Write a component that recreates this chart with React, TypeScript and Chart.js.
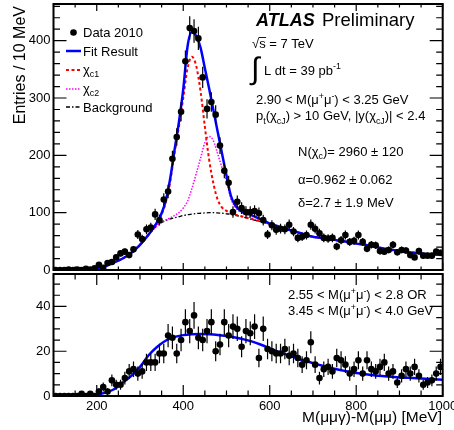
import React, { useEffect, useRef } from 'react';
import { Chart, registerables } from 'chart.js';

Chart.register(...registerables);

const FONT = '"Liberation Sans", Arial, Helvetica, sans-serif';

// ---------- data: 10 MeV bins ----------
const binCenters = [
  105, 115, 125, 135, 145, 155, 165, 175, 185, 195,
  205, 215, 225, 235, 245, 255, 265, 275, 285, 295,
  305, 315, 325, 335, 345, 355, 365, 375, 385, 395,
  405, 415, 425, 435, 445, 455, 465, 475, 485, 495,
  505, 515, 525, 535, 545, 555, 565, 575, 585, 595,
  605, 615, 625, 635, 645, 655, 665, 675, 685, 695,
  705, 715, 725, 735, 745, 755, 765, 775, 785, 795,
  805, 815, 825, 835, 845, 855, 865, 875, 885, 895,
  905, 915, 925, 935, 945, 955, 965, 975, 985, 995,
];

const topCounts = [
  0, 0, 0, 1, 0, 1, 0, 2, 1, 3,
  9, 4, 12, 14, 22, 29, 32, 26, 36, 62,
  54, 71, 74, 97, 87, 123, 137, 194, 232, 276,
  364, 422, 417, 404, 336, 281, 293, 271, 217, 173,
  152, 101, 119, 108, 101, 101, 103, 99, 87, 62,
  78, 70, 72, 71, 79, 67, 56, 58, 61, 79,
  72, 64, 56, 55, 56, 41, 52, 61, 49, 51,
  61, 49, 37, 44, 43, 33, 32, 35, 44, 31,
  35, 34, 26, 22, 33, 25, 25, 25, 32, 30,
];

const bottomCounts = [
  0, 0, 0, 0, 0, 0, 1, 0, 1, 0,
  2, 4, 2, 7, 5, 5, 8, 11, 12, 10,
  11, 15, 15, 15, 19, 19, 27, 26, 19, 25,
  33, 29, 36, 26, 25, 29, 33, 20, 23, 33,
  27, 31, 30, 22, 29, 28, 31, 17, 30, 21,
  20, 19, 19, 21, 18, 19, 17, 14, 16, 24,
  14, 8, 12, 13, 11, 17, 16, 14, 10, 12,
  16, 10, 16, 12, 11, 13, 15, 10, 11, 6,
  9, 12, 10, 13, 9, 5, 6, 7, 10, 13,
];

// ---------- fitted curves ----------
const topCurveX = [
  100, 160, 180, 200, 220, 240, 260, 280, 300, 320, 340, 350, 360, 370, 380, 390,
  400, 410, 420, 430, 440, 450, 460, 470, 480, 490, 500, 510, 520, 530, 540, 560,
  580, 600, 620, 640, 660, 680, 700, 720, 740, 760, 780, 800, 820, 840, 860, 880,
  900, 920, 940, 960, 980, 1000,
];
const fitTop = [
  0, 0, 1, 3, 7, 13, 20, 30, 44, 62, 84, 99, 122, 160, 210, 258,
  315, 390, 415, 408, 388, 352, 316, 278, 240, 202, 165, 130, 113, 105, 100, 95,
  88, 81, 76, 71, 67, 62, 58, 56, 54, 51, 49, 46, 44, 41, 38, 35.5,
  33, 31, 29.5, 28, 27, 26,
];
const chic1Top = [
  0, 0, 1, 3, 7, 13, 20, 30, 44, 62, 83, 97, 119, 155, 205, 250,
  300, 352, 372, 356, 312, 250, 192, 150, 122, 109, 103, 99, 96.5, 94.5, 92.5, 88.5,
  84.5, 80.5, 75.8, 71.2, 66.7, 62.2, 58.2, 55.7, 53.7, 51.2, 48.7, 46.2, 43.7, 41.2, 38.2, 35.7,
  33.2, 31.2, 29.7, 28.2, 27.1, 26.1,
];
const chic2Top = [
  0, 0, 1, 3, 7, 13, 20, 30, 43, 61, 78, 83.5, 87.5, 91, 95, 100,
  108, 120, 142, 168, 195, 222, 233, 225, 202, 178, 155, 125, 110, 102, 97.5, 90,
  85, 80.5, 75.8, 71.2, 66.7, 62.2, 58.2, 55.7, 53.7, 51.2, 48.7, 46.2, 43.7, 41.2, 38.2, 35.7,
  33.2, 31.2, 29.7, 28.2, 27.1, 26.1,
];
const bkgTop = [
  0, 0, 1, 3, 7, 13, 20, 30, 43, 61, 78, 83, 86.5, 89, 91, 93,
  95, 96.5, 97.5, 98.5, 99, 99.5, 100, 100, 99.5, 99, 98, 97, 95.5, 94, 92, 88,
  84, 80, 75.5, 71, 66.5, 62, 58, 55.5, 53.5, 51, 48.5, 46, 43.5, 41, 38, 35.5,
  33, 31, 29.5, 28, 27, 26,
];

const bottomCurveX = [
  100, 160, 180, 200, 220, 240, 260, 280, 300, 320, 340, 360, 380, 400, 420, 440,
  460, 480, 500, 520, 540, 560, 580, 600, 620, 640, 660, 680, 700, 720, 740, 760,
  780, 800, 820, 840, 860, 880, 900, 920, 940, 960, 980, 1000,
];
const fitBottom = [
  0, 0, 0.2, 0.6, 1.5, 3, 6, 9, 13, 18.2, 22, 24.8, 26.4, 27.2, 27.6, 27.7,
  27.6, 27.3, 26.8, 26.1, 25.3, 24.3, 22.9, 21.3, 19.8, 18.4, 17.1, 15.8, 14.7, 13.6, 12.6, 11.7,
  11, 10.3, 9.8, 9.3, 8.9, 8.6, 8.3, 8.1, 7.9, 7.7, 7.5, 7.3,
];

// ---------- axes ----------
const xRange = [100, 1000];
const xTickLabels = [200, 400, 600, 800, 1000];
const yTopRange = [0, 464];
const yTopLabels = [0, 100, 200, 300, 400];
const yBottomRange = [0, 54.5];
const yBottomLabels = [0, 20, 40];

const pts = (xs: number[], ys: number[]) => xs.map((x, i) => ({ x, y: ys[i] }));

type Seg = [string, string?];

function drawRich(ctx: CanvasRenderingContext2D, x: number, y: number, segs: Seg[], size: number) {
  ctx.fillStyle = '#000';
  ctx.textAlign = 'left';
  ctx.textBaseline = 'alphabetic';
  let cx = x;
  for (const [t, k] of segs) {
    let fs = size;
    let dy = 0;
    if (k === 'sub') { fs = size * 0.68; dy = size * 0.3; }
    else if (k === 'sup') { fs = size * 0.68; dy = -size * 0.42; }
    ctx.font = `${fs}px ${FONT}`;
    ctx.fillText(t, cx, y + dy);
    cx += ctx.measureText(t).width;
  }
  return cx;
}

type FrameCfg = {
  xMajor: number; xMinor: number; yMajor: number; yMinor: number;
  xMajLen: number; xMinLen: number; yMajLen: number; yMinLen: number;
};

function framePlugin(cfg: FrameCfg) {
  return {
    id: 'rootFrame',
    afterDraw(chart: any) {
      const { ctx, chartArea: a, scales } = chart;
      const xs = scales.x;
      const ys = scales.y;
      const isMajor = (v: number, m: number) => Math.abs(v / m - Math.round(v / m)) < 1e-6;
      ctx.save();
      ctx.strokeStyle = '#000';
      ctx.lineWidth = 1.2;
      ctx.setLineDash([]);
      ctx.beginPath();
      for (let v = Math.ceil(xs.min / cfg.xMinor) * cfg.xMinor; v <= xs.max + 1e-9; v += cfg.xMinor) {
        const px = xs.getPixelForValue(v);
        const L = isMajor(v, cfg.xMajor) ? cfg.xMajLen : cfg.xMinLen;
        ctx.moveTo(px, a.bottom); ctx.lineTo(px, a.bottom - L);
        ctx.moveTo(px, a.top); ctx.lineTo(px, a.top + L);
      }
      for (let v = Math.ceil(ys.min / cfg.yMinor) * cfg.yMinor; v <= ys.max + 1e-9; v += cfg.yMinor) {
        const py = ys.getPixelForValue(v);
        const L = isMajor(v, cfg.yMajor) ? cfg.yMajLen : cfg.yMinLen;
        ctx.moveTo(a.left, py); ctx.lineTo(a.left + L, py);
        ctx.moveTo(a.right, py); ctx.lineTo(a.right - L, py);
      }
      ctx.stroke();
      ctx.lineWidth = 2;
      ctx.strokeRect(a.left, a.top, a.right - a.left, a.bottom - a.top);
      ctx.restore();
    },
  };
}

function errorBarPlugin(counts: number[]) {
  return {
    id: 'errBars',
    afterDatasetsDraw(chart: any) {
      const { ctx, chartArea: a, scales } = chart;
      ctx.save();
      ctx.beginPath();
      ctx.rect(a.left, a.top, a.right - a.left, a.bottom - a.top);
      ctx.clip();
      ctx.strokeStyle = '#000';
      ctx.lineWidth = 1.2;
      ctx.setLineDash([]);
      ctx.beginPath();
      counts.forEach((n, i) => {
        if (n <= 0) return;
        const e = Math.sqrt(n);
        const px = scales.x.getPixelForValue(binCenters[i]);
        ctx.moveTo(px, scales.y.getPixelForValue(n - e));
        ctx.lineTo(px, scales.y.getPixelForValue(n + e));
      });
      ctx.stroke();
      ctx.restore();
    },
  };
}

const topTextPlugin = {
  id: 'topText',
  afterDraw(chart: any) {
    const ctx: CanvasRenderingContext2D = chart.ctx;
    ctx.save();
    ctx.fillStyle = '#000';
    // y title
    ctx.save();
    ctx.translate(25, 6);
    ctx.rotate(-Math.PI / 2);
    ctx.textAlign = 'right';
    ctx.textBaseline = 'alphabetic';
    ctx.font = `16px ${FONT}`;
    ctx.fillText('Entries / 10 MeV', 0, 0);
    ctx.restore();

    // legend
    const lx0 = 66, lx1 = 81, tx = 83;
    ctx.beginPath();
    ctx.arc(73.5, 32.5, 3.3, 0, Math.PI * 2);
    ctx.fill();
    drawRich(ctx, tx, 37, [['Data 2010']], 13);
    const legLine = (y: number, color: string, w: number, dash: number[]) => {
      ctx.save();
      ctx.strokeStyle = color;
      ctx.lineWidth = w;
      ctx.setLineDash(dash);
      ctx.beginPath();
      ctx.moveTo(lx0, y);
      ctx.lineTo(lx1, y);
      ctx.stroke();
      ctx.restore();
    };
    legLine(51, '#0000ff', 2.5, []);
    drawRich(ctx, tx, 55.5, [['Fit Result']], 13);
    legLine(70, '#ff0000', 2, [3, 2.5]);
    drawRich(ctx, tx, 73.5, [['χ'], ['c1', 'sub']], 13);
    legLine(89, '#ff00ff', 1.5, [1.5, 1.5]);
    drawRich(ctx, tx, 92.5, [['χ'], ['c2', 'sub']], 13);
    legLine(107, '#000000', 1.5, [4, 2, 1.5, 2]);
    drawRich(ctx, tx, 111.5, [['Background']], 13);

    // ATLAS label
    ctx.textAlign = 'left';
    ctx.fillStyle = '#000';
    ctx.font = `italic bold 18px ${FONT}`;
    ctx.fillText('ATLAS', 256, 26);
    ctx.font = `18.5px ${FONT}`;
    ctx.fillText('Preliminary', 322, 26);

    // sqrt(s)
    const afterRoot = drawRich(ctx, 252, 47.5, [['√']], 13);
    const afterS = drawRich(ctx, afterRoot, 47.5, [['s']], 13);
    ctx.save();
    ctx.lineWidth = 0.9;
    ctx.beginPath();
    ctx.moveTo(afterRoot - 0.5, 37.5);
    ctx.lineTo(afterS + 0.5, 37.5);
    ctx.stroke();
    ctx.restore();
    drawRich(ctx, afterS, 47.5, [[' = 7 TeV']], 13);

    // integral L dt
    ctx.font = `31px ${FONT}`;
    ctx.fillText('∫', 251, 79);
    drawRich(ctx, 264, 74.5, [['L dt = 39 pb'], ['-1', 'sup']], 13);

    drawRich(ctx, 256, 104, [['2.90 < M(μ'], ['+', 'sup'], ['μ'], ['-', 'sup'], [') < 3.25 GeV']], 13);
    drawRich(ctx, 256, 120, [['p'], ['t', 'sub'], ['(χ'], ['cJ', 'sub'], [') > 10 GeV, |y(χ'], ['cJ', 'sub'], [')| < 2.4']], 13);
    drawRich(ctx, 298, 155.5, [['N(χ'], ['c', 'sub'], [')= 2960 ± 120']], 13);
    drawRich(ctx, 298, 184, [['α=0.962 ± 0.062']], 13);
    drawRich(ctx, 298, 207, [['δ=2.7 ± 1.9 MeV']], 13);
    ctx.restore();
  },
};

const BOTTOM_TOP = 270;

const bottomTextPlugin = {
  id: 'bottomText',
  afterDraw(chart: any) {
    const ctx: CanvasRenderingContext2D = chart.ctx;
    ctx.save();
    drawRich(ctx, 288, 299 - BOTTOM_TOP, [['2.55 < M(μ'], ['+', 'sup'], ['μ'], ['-', 'sup'], [') < 2.8 OR']], 13);
    drawRich(ctx, 288, 315 - BOTTOM_TOP, [['3.45 < M(μ'], ['+', 'sup'], ['μ'], ['-', 'sup'], [') < 4.0 GeV']], 13);
    ctx.font = `15.5px ${FONT}`;
    ctx.textAlign = 'right';
    ctx.fillStyle = '#000';
    ctx.fillText('M(μμγ)-M(μμ) [MeV]', 442, 421.5 - BOTTOM_TOP);
    ctx.restore();
  },
};

const tickFont = { family: FONT, size: 13 };
const plainLabel = (v: any) => String(v);

export default function App() {
  const topRef = useRef<HTMLCanvasElement | null>(null);
  const botRef = useRef<HTMLCanvasElement | null>(null);

  useEffect(() => {
    if (!topRef.current || !botRef.current) return;

    const curve = (label: string, xs: number[], ys: number[], color: string, width: number, dash: number[]) => ({
      type: 'line' as const,
      label,
      data: pts(xs, ys),
      borderColor: color,
      backgroundColor: color,
      borderWidth: width,
      borderDash: dash,
      pointRadius: 0,
      showLine: true,
      fill: false,
      cubicInterpolationMode: 'monotone' as const,
    });

    const topChart = new Chart(topRef.current, {
      type: 'scatter',
      data: {
        datasets: [
          {
            label: 'Data 2010',
            data: pts(binCenters, topCounts),
            pointRadius: 3.3,
            pointBackgroundColor: '#000',
            pointBorderColor: '#000',
            pointBorderWidth: 0,
            showLine: false,
          },
          curve('Fit Result', topCurveX, fitTop, '#0000ff', 2.5, []),
          curve('χc1', topCurveX, chic1Top, '#ff0000', 2, [3, 2.5]),
          curve('χc2', topCurveX, chic2Top, '#ff00ff', 1.5, [1.5, 1.5]),
          curve('Background', topCurveX, bkgTop, '#000000', 1.3, [4, 2, 1.5, 2]),
        ] as any,
      },
      options: {
        animation: false,
        responsive: false,
        devicePixelRatio: 1,
        events: [],
        layout: { padding: { left: 0, right: 11.3, top: 4, bottom: 2 } },
        plugins: { legend: { display: false }, tooltip: { enabled: false } },
        scales: {
          x: { type: 'linear', min: xRange[0], max: xRange[1], display: false },
          y: {
            type: 'linear',
            min: yTopRange[0],
            max: yTopRange[1],
            grid: { display: false, drawTicks: false },
            border: { display: false },
            ticks: { font: tickFont, color: '#000', padding: 3, callback: plainLabel },
            afterBuildTicks: (s: any) => { s.ticks = yTopLabels.map((v) => ({ value: v })); },
            afterFit: (s: any) => { s.width = 53.5; s.paddingTop = 0; s.paddingBottom = 0; },
          },
        },
      } as any,
      plugins: [
        errorBarPlugin(topCounts),
        framePlugin({ xMajor: 200, xMinor: 50, yMajor: 100, yMinor: 20, xMajLen: 7, xMinLen: 3.5, yMajLen: 13, yMinLen: 6.5 }),
        topTextPlugin,
      ],
    });

    const botChart = new Chart(botRef.current, {
      type: 'scatter',
      data: {
        datasets: [
          {
            label: 'Data',
            data: pts(binCenters, bottomCounts),
            pointRadius: 3.3,
            pointBackgroundColor: '#000',
            pointBorderColor: '#000',
            pointBorderWidth: 0,
            showLine: false,
          },
          curve('Fit', bottomCurveX, fitBottom, '#0000ff', 2.5, []),
        ] as any,
      },
      options: {
        animation: false,
        responsive: false,
        devicePixelRatio: 1,
        events: [],
        layout: { padding: { left: 0, right: 11.3, top: 3, bottom: 0 } },
        plugins: { legend: { display: false }, tooltip: { enabled: false } },
        scales: {
          x: {
            type: 'linear',
            min: xRange[0],
            max: xRange[1],
            grid: { display: false, drawTicks: false },
            border: { display: false },
            ticks: { font: tickFont, color: '#000', padding: 3, maxRotation: 0, autoSkip: false, callback: plainLabel },
            afterBuildTicks: (s: any) => { s.ticks = xTickLabels.map((v) => ({ value: v })); },
            afterFit: (s: any) => { s.height = 34; s.paddingLeft = 0; s.paddingRight = 0; },
          },
          y: {
            type: 'linear',
            min: yBottomRange[0],
            max: yBottomRange[1],
            grid: { display: false, drawTicks: false },
            border: { display: false },
            ticks: { font: tickFont, color: '#000', padding: 3, callback: plainLabel },
            afterBuildTicks: (s: any) => { s.ticks = yBottomLabels.map((v) => ({ value: v })); },
            afterFit: (s: any) => { s.width = 53.5; s.paddingTop = 0; s.paddingBottom = 0; },
          },
        },
      } as any,
      plugins: [
        errorBarPlugin(bottomCounts),
        framePlugin({ xMajor: 200, xMinor: 50, yMajor: 20, yMinor: 5, xMajLen: 11, xMinLen: 5.5, yMajLen: 13, yMinLen: 6.5 }),
        bottomTextPlugin,
      ],
    });

    return () => {
      topChart.destroy();
      botChart.destroy();
    };
  }, []);

  return (
    <div style={{ position: 'absolute', left: 0, top: 0, width: 454, height: 430, background: '#fff' }}>
      <canvas ref={topRef} width={454} height={274} style={{ position: 'absolute', left: 0, top: 0, width: 454, height: 274 }} />
      <canvas ref={botRef} width={454} height={160} style={{ position: 'absolute', left: 0, top: BOTTOM_TOP, width: 454, height: 160 }} />
    </div>
  );
}
